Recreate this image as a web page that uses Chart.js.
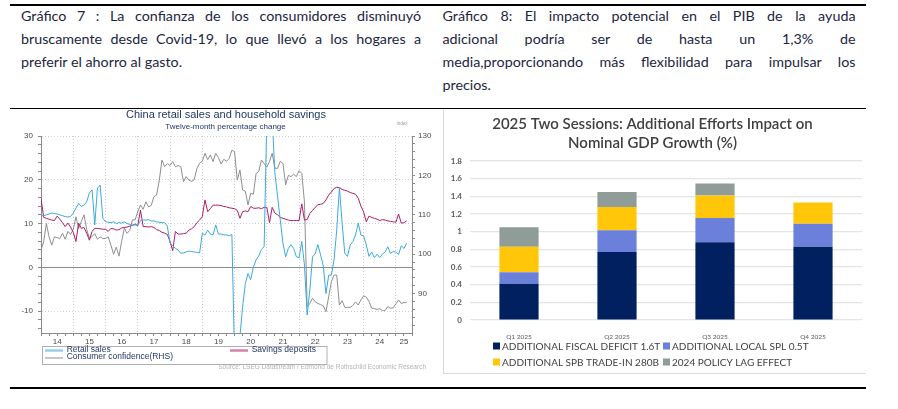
<!DOCTYPE html>
<html>
<head>
<meta charset="utf-8">
<script src="https://cdn.jsdelivr.net/npm/chart.js@4.4.1/dist/chart.umd.min.js"></script>
<style>
  html, body { margin: 0; padding: 0; background: #fff; }
  body { width: 898px; height: 409px; position: relative; overflow: hidden; font-family: 'Lato', sans-serif; }
  .rule { position: absolute; left: 10px; width: 856px; height: 1.5px; background: #000; }
  .txt { position: absolute; color: #1c2541; font-size: 14.3px; line-height: 23.3px; }
  .txt div { text-align: justify; text-align-last: justify; }
  .txt div.last { text-align-last: left; }
  #leftBox { position: absolute; left: 0; top: 100px; width: 440px; height: 285px; }
  #rightBox { position: absolute; left: 443px; top: 110px; width: 423px; height: 263px; }
  .frame { position: absolute; background: #d9d9d9; }
</style>
</head>
<body>
<div class="rule" style="top:4px"></div>
<div class="rule" style="top:107.5px"></div>
<div class="rule" style="top:387.3px"></div>

<div class="txt" style="left:21px; top:3.5px; width:400px;">
  <div>Gráfico 7 : La confianza de los consumidores disminuyó</div>
  <div>bruscamente desde Covid-19, lo que llevó a los hogares a</div>
  <div class="last">preferir el ahorro al gasto.</div>
</div>
<div class="txt" style="left:442.5px; top:3.5px; width:413px;">
  <div>Gráfico 8: El impacto potencial en el PIB de la ayuda</div>
  <div>adicional podría ser de hasta un 1,3% de</div>
  <div>media,proporcionando más flexibilidad para impulsar los</div>
  <div class="last">precios.</div>
</div>

<div id="leftBox"><canvas id="leftChart" width="440" height="285"></canvas></div>
<div class="frame" style="left:443px; top:109px; width:1px; height:265px;"></div>
<div class="frame" style="left:443px; top:373px; width:423px; height:1px;"></div>
<div id="rightBox"><canvas id="rightChart" width="423" height="263"></canvas></div>

<script>
// ---- Chart 7: China retail sales and household savings (monthly, Jan 2014 - May 2025)
const years = ['14', '15', '16', '17', '18', '19', '20', '21', '22', '23', '24', '25'];

const retailSales = [
  11.8, 11.8, 12.0, 12.2, 12.4, 12.3, 12.2, 12.0, 11.8, 11.6, 11.5, 11.6,
  12.4, 13.5, 14.6, 13.9, 14.2, 15.0, 17.0, 17.7, 9.7, 18.1, 18.8, 11.2,
  10.4, 10.3, 10.2, 10.4, 10.0, 10.2, 10.1, 10.4, 10.0, 9.8, 9.6, 9.7,
  9.6, 10.7, 10.8, 10.8, 10.9, 10.6, 10.6, 10.4, 10.3, 10.2, 10.2, 9.4,
  5.5, 5.0, 4.3, 4.0, 3.2, 3.3, 3.5, 3.7, 3.6, 3.5, 3.4, 3.3,
  7.8, 7.4, 8.5, 7.6, 7.4, 9.7, 7.6, 7.6, 7.4, 7.4, 7.2, 7.5,
  -20.5, -20.5, -15.8, -9.0, -3.7, -1.4, -2.8, 0.0, 1.7, 2.6, 4.1, 4.7,
  33.8, 33.8, 34.2, 21.5, 16.2, 10.8, 5.5, 2.4, 4.3, 5.2, 4.3, 2.4,
  2.2, 5.9, 0.5, -10.9, -5.2, 2.4, 3.1, 5.2, 2.8, 0.3, -6.0, -1.8,
  -1.8, 1.7, 8.5, 18.3, 10.1, 3.2, 2.5, 5.1, 5.9, 7.4, 10.1, 7.4,
  7.2, 5.1, 2.5, 3.5, 2.2, 3.0, 2.2, 3.0, 3.5, 4.7, 3.2, 3.6,
  3.5, 2.9, 4.9, 4.3, 5.5
];

const savingsDeposits = [
  15.8, 11.4, 11.2, 11.0, 10.8, 10.7, 11.7, 11.0, 10.2, 9.3, 10.1, 9.2,
  8.0, 5.9, 10.1, 8.9, 9.1, 7.8, 6.2, 8.2, 8.9, 8.9, 8.8, 8.7,
  8.7, 8.2, 8.9, 8.8, 8.5, 8.6, 9.0, 9.1, 9.2, 9.4, 9.6, 9.9,
  9.5, 13.1, 9.3, 9.3, 9.2, 9.3, 9.1, 8.6, 8.4, 8.0, 7.8, 7.5,
  5.9, 3.8, 8.2, 7.6, 7.6, 7.7, 7.8, 8.5, 8.8, 9.3, 10.2, 10.8,
  11.6, 15.4, 12.7, 13.4, 14.2, 14.2, 14.2, 14.1, 13.9, 13.8, 13.6, 13.5,
  13.4, 13.0, 11.2, 12.7, 12.9, 12.7, 13.9, 13.5, 13.5, 13.6, 13.4, 13.7,
  13.7, 10.2, 13.7, 12.4, 12.0, 11.4, 11.2, 11.0, 10.8, 10.7, 10.7, 10.7,
  10.7, 14.5, 10.8, 10.9, 12.3, 13.0, 13.7, 14.3, 14.4, 14.6, 15.4, 16.5,
  17.2, 18.0, 18.3, 18.2, 17.8, 17.6, 17.4, 17.1, 16.9, 16.7, 15.8, 14.0,
  12.7, 10.4, 11.7, 11.4, 11.2, 11.0, 10.7, 10.9, 10.8, 10.6, 10.5, 10.4,
  10.3, 12.2, 10.1, 10.2, 10.6
];

const consumerConfidence = [
  101.1, 103.2, 107.8, 104.4, 102.3, 104.4, 104.2, 104.0, 105.3, 103.8, 105.8, 105.0,
  106.3, 109.5, 106.5, 108.3, 110.0, 106.3, 104.0, 104.5, 105.2, 103.8, 104.4, 104.0,
  104.0, 104.4, 102.3, 100.0, 101.8, 99.5, 103.2, 106.6, 105.3, 106.0, 108.7, 108.7,
  110.8, 112.5, 111.4, 113.3, 112.0, 112.4, 114.6, 115.0, 118.8, 123.9, 122.2, 123.0,
  122.5, 123.5, 122.2, 122.5, 122.2, 118.4, 119.7, 118.8, 118.5, 118.9, 121.8, 123.1,
  123.6, 125.6, 124.0, 125.2, 123.5, 125.6, 124.5, 122.9, 124.1, 123.6, 124.3, 126.4,
  126.0, 118.8, 121.4, 116.3, 116.0, 112.5, 115.5, 115.2, 120.5, 121.0, 123.9, 123.0,
  122.1, 123.5, 125.6, 121.8, 121.8, 123.6, 123.0, 117.6, 120.0, 119.7, 120.3, 119.7,
  121.2, 120.5, 113.2, 86.7, 87.5, 88.8, 87.9, 87.5, 87.2, 86.9, 85.4, 89.2,
  93.0, 94.7, 94.7, 87.1, 88.2, 86.5, 86.5, 86.5, 87.0, 87.9, 87.1, 88.4,
  89.4, 89.1, 88.0, 86.3, 86.2, 86.0, 86.2, 85.7, 85.7, 86.7, 86.3, 86.4,
  87.4, 88.4, 87.5, 87.7, 87.8
];

// ---- Chart 8: 2025 Two Sessions stacked bars
const quarters = ['Q1 2025', 'Q2 2025', 'Q3 2025', 'Q4 2025'];
const fiscalDeficit = [0.41, 0.77, 0.88, 0.83];
const localSpl = [0.13, 0.245, 0.275, 0.26];
const spbTradeIn = [0.29, 0.265, 0.255, 0.24];
const policyLag = [0.22, 0.17, 0.135, 0];

// month index on a linear axis (0 = Jan 2014)
const monthIndex = retailSales.map((_, i) => i);
const xMax = 138;
const quarterTicks = [];
for (let v = 0; v <= xMax; v += 3) quarterTicks.push(v);
const yearLabelAt = years.map((_, i) => Math.min(i * 12 + 6, (i * 12 + xMax) / 2));
const leftTicks = [];
for (let v = -14; v <= 30; v += 2) leftTicks.push(v);
const rightTicks = [];
for (let v = 82; v <= 130; v += 2) rightTicks.push(v);

const gridGrey = '#cfcfcf';
const axisGrey = '#8a8a8a';
const clear = 'rgba(0,0,0,0)';
const tickFont = { family: 'Liberation Sans', size: 8 };

const leftDecor = {
  id: 'leftDecor',
  afterDraw(chart) {
    const { ctx } = chart;
    ctx.save();
    ctx.textBaseline = 'middle';
    ctx.textAlign = 'center';
    ctx.fillStyle = '#1f3864';
    ctx.font = '11px "Liberation Sans"';
    ctx.fillText('China retail sales and household savings', 226, 15);
    ctx.font = '8px "Liberation Sans"';
    ctx.fillText('Twelve-month percentage change', 225.5, 26.7);
    ctx.fillStyle = '#9a9a9a';
    ctx.font = '4.5px "Liberation Sans"';
    ctx.fillText('Index', 402, 23.5);

    // legend box
    ctx.strokeStyle = '#b0b0b0';
    ctx.lineWidth = 1;
    ctx.strokeRect(42.5, 246.5, 284.5, 18);
    const spots = [[45, 250.5], [230, 250.5], [45, 258]];
    chart.data.datasets.forEach((ds, i) => {
      const [x, y] = spots[i];
      ctx.save();
      ctx.strokeStyle = ds.borderColor;
      ctx.lineWidth = i < 2 ? 2.5 : 1;
      ctx.globalAlpha = i < 2 ? 0.55 : 1;
      ctx.beginPath();
      ctx.moveTo(x, y);
      ctx.lineTo(x + 18, y);
      ctx.stroke();
      ctx.restore();
      ctx.fillStyle = '#1f3864';
      ctx.textAlign = 'left';
      ctx.font = '8.5px "Liberation Sans"';
      ctx.fillText(ds.label, x + 21.7, y - 1);
    });

    ctx.textAlign = 'right';
    ctx.fillStyle = '#b4b4b4';
    ctx.font = '6.5px "Liberation Sans"';
    ctx.fillText('Source: LSEG Datastream / Edmond de Rothschild Economic Research', 426, 267.5);
    ctx.restore();
  }
};

new Chart(document.getElementById('leftChart'), {
  type: 'line',
  data: {
    labels: monthIndex,
    datasets: [
      { label: 'Retail sales', data: retailSales, borderColor: '#3aaade', yAxisID: 'y' },
      { label: 'Savings deposits', data: savingsDeposits, borderColor: '#ae1c68', yAxisID: 'y' },
      { label: 'Consumer confidence(RHS)', data: consumerConfidence, borderColor: '#8e8e8e', yAxisID: 'y1' }
    ]
  },
  options: {
    responsive: false,
    animation: false,
    elements: { point: { radius: 0 }, line: { borderWidth: 1, tension: 0 } },
    layout: { padding: { top: 36, left: 0, right: 0, bottom: 0 } },
    plugins: { legend: { display: false }, tooltip: { enabled: false } },
    scales: {
      x: {
        type: 'linear', min: 0, max: xMax,
        afterBuildTicks: (s) => { s.ticks = quarterTicks.map(v => ({ value: v })); },
        afterFit: (s) => { s.height = 52; },
        grid: {
          color: (c) => c.tick && c.tick.value > 0 && c.tick.value % 12 === 0 ? gridGrey : clear,
          tickColor: axisGrey, tickLength: 3
        },
        border: { color: axisGrey, dash: [1, 2] },
        ticks: {
          autoSkip: false, maxRotation: 0, padding: 1, font: tickFont, color: '#4a4a4a',
          callback: (v) => { const k = yearLabelAt.indexOf(v); return k >= 0 ? years[k] : ''; }
        }
      },
      y: {
        position: 'left', min: -15, max: 30,
        afterBuildTicks: (s) => { s.ticks = leftTicks.map(v => ({ value: v })); },
        afterFit: (s) => { s.width = 41; },
        grid: {
          color: (c) => !c.tick ? clear : c.tick.value === 0 ? '#8c8c8c' : c.tick.value % 10 === 0 ? gridGrey : clear,
          tickColor: axisGrey, tickLength: 3
        },
        border: { color: axisGrey, dash: (c) => c.tick && c.tick.value === 0 ? [] : [1, 2] },
        ticks: { autoSkip: false, padding: 5, font: tickFont, color: '#4a4a4a', callback: (v) => v % 10 === 0 ? String(v) : '' }
      },
      y1: {
        position: 'right', min: 80, max: 130,
        afterBuildTicks: (s) => { s.ticks = rightTicks.map(v => ({ value: v })); },
        afterFit: (s) => { s.width = 28; },
        grid: { drawOnChartArea: false, tickColor: axisGrey, tickLength: 3 },
        border: { color: axisGrey },
        ticks: { autoSkip: false, padding: 3, font: tickFont, color: '#4a4a4a', callback: (v) => v % 10 === 0 ? String(v) : '' }
      }
    }
  },
  plugins: [leftDecor]
});

const rightLegend = {
  id: 'rightLegend',
  afterDraw(chart) {
    const { ctx } = chart;
    const spots = [[50, 236], [220, 236], [50, 252], [220, 252]];
    ctx.save();
    ctx.textBaseline = 'middle';
    ctx.textAlign = 'left';
    ctx.font = '10px Lato';
    chart.data.datasets.forEach((ds, i) => {
      const [x, y] = spots[i];
      ctx.fillStyle = ds.backgroundColor;
      ctx.fillRect(x, y - 3.5, 7, 7);
      ctx.fillStyle = '#404040';
      ctx.fillText(ds.label, x + 9, y + 0.5);
    });
    ctx.restore();
  }
};

new Chart(document.getElementById('rightChart'), {
  type: 'bar',
  data: {
    labels: quarters,
    datasets: [
      { label: 'ADDITIONAL FISCAL DEFICIT 1.6T', data: fiscalDeficit, backgroundColor: '#002060' },
      { label: 'ADDITIONAL LOCAL SPL 0.5T', data: localSpl, backgroundColor: '#6b80da' },
      { label: 'ADDITIONAL SPB TRADE-IN 280B', data: spbTradeIn, backgroundColor: '#ffc60a' },
      { label: '2024 POLICY LAG EFFECT', data: policyLag, backgroundColor: '#8f9c98' }
    ]
  },
  options: {
    responsive: false,
    animation: false,
    datasets: { bar: { barPercentage: 0.4, categoryPercentage: 1 } },
    layout: { padding: { left: 0, right: 4, top: 0, bottom: 0 } },
    plugins: {
      legend: { display: false },
      tooltip: { enabled: false },
      title: {
        display: true,
        text: ['2025 Two Sessions: Additional Efforts Impact on', 'Nominal GDP Growth (%)'],
        color: '#404040',
        font: { family: 'Lato', size: 15, weight: '600', lineHeight: 1.25 },
        padding: { top: 5, bottom: 8.5 }
      }
    },
    scales: {
      x: {
        stacked: true,
        grid: { display: false },
        border: { display: false },
        afterFit: (s) => { s.height = 53; },
        ticks: { font: { family: 'Lato', size: 6.5 }, color: '#595959', padding: 5 }
      },
      y: {
        stacked: true, min: 0, max: 1.8,
        afterFit: (s) => { s.width = 27; },
        grid: { color: '#e4e4e4', lineWidth: 1.2, drawTicks: false },
        border: { display: false },
        ticks: {
          stepSize: 0.2, padding: 8, color: '#595959',
          font: { family: 'Lato', size: 8, weight: 'bold' },
          callback: (v) => String(Math.round(v * 10) / 10)
        }
      }
    }
  },
  plugins: [rightLegend]
});
</script>
</body>
</html>
